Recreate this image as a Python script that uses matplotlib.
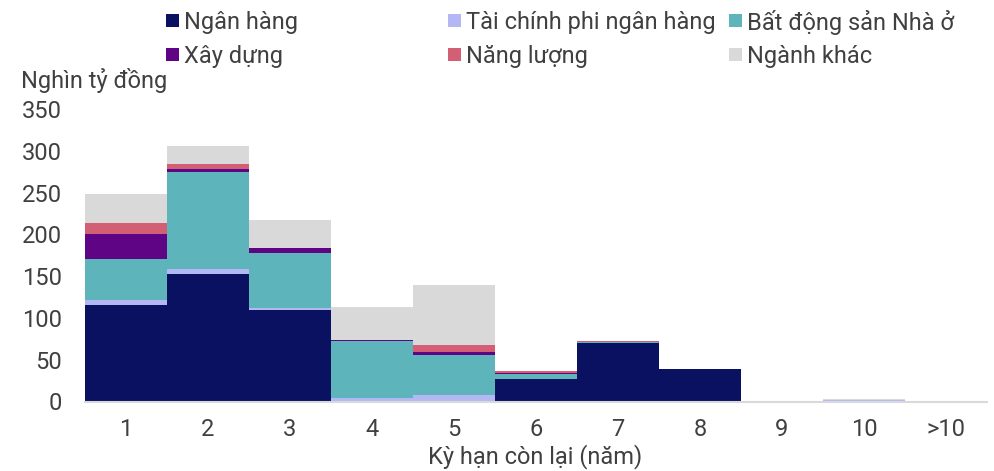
import matplotlib
matplotlib.use("Agg")
import matplotlib.pyplot as plt
from matplotlib.patches import Rectangle
import numpy as np

plt.rcParams['font.family'] = ['Roboto', 'DejaVu Sans']

categories = ["1", "2", "3", "4", "5", "6", "7", "8", "9", "10", ">10"]
ngan_hang = [115, 152, 110, 0.5, 0.5, 26.5, 69.5, 38.5, 0.0, 0.0, 0.0]
tai_chinh = [7, 7, 2, 3.5, 7.5, 0, 0, 0, 0.0, 1.2, 0.0]
bat_dong_san = [49, 116, 66, 68, 48, 6.5, 1.5, 0, 0, 0, 0]
xay_dung = [29, 3, 5.5, 1, 3, 1.5, 0.7, 0, 0.4, 0, 0]
nang_luong = [14, 6, 0.5, 0.7, 9, 2, 0.6, 0, 0.3, 0, 0]
nganh_khac = [34, 22, 33, 39, 71, 0, 0, 0, 0, 2.2, 0.3]

series = [
    ("Ngân hàng", ngan_hang, "#0B1161"),
    ("Tài chính phi ngân hàng", tai_chinh, "#B3B8F5"),
    ("Bất động sản Nhà ở", bat_dong_san, "#5DB4BB"),
    ("Xây dựng", xay_dung, "#5E0485"),
    ("Năng lượng", nang_luong, "#D35F75"),
    ("Ngành khác", nganh_khac, "#D9D9D9"),
]

W, H = 994, 471
fig = plt.figure(figsize=(W / 100, H / 100), dpi=100)
ax = fig.add_axes([85 / W, 1 - 401.5 / H, 902 / W, 292.5 / H])

x = np.arange(1, len(categories) + 1)
bottom = np.zeros(len(categories))
for name, vals, color in series:
    v = np.array(vals, dtype=float)
    ax.bar(x, v, width=1.0, bottom=bottom, color=color, edgecolor="none", linewidth=0)
    bottom += v

ax.set_xlim(0.5, len(categories) + 0.5)
ax.set_ylim(0, 350)
ax.set_yticks(range(0, 351, 50))
ax.set_xticks(x)
ax.set_xticklabels(categories)

text_color = "#404040"
fs = 17
for s in ["top", "right", "left"]:
    ax.spines[s].set_visible(False)
ax.spines["bottom"].set_color("#D9D9D9")
ax.spines["bottom"].set_linewidth(1.5)
ax.tick_params(axis="both", length=0, labelsize=fs, colors=text_color)
ax.tick_params(axis="y", pad=16.5)
ax.tick_params(axis="x", pad=12)

fig.text(535 / W, 1 - 463 / H, "Kỳ hạn còn lại (năm)", fontsize=fs, color=text_color,
         ha="center", va="baseline")
fig.text(21 / W, 1 - 88 / H, "Nghìn tỷ đồng", fontsize=fs, color=text_color,
         ha="left", va="baseline")

# legend laid out in three equal-width columns, row by row
col_x = [166, 448, 729]
row_y = [20, 54]
sq = 13
for i, (name, _, color) in enumerate(series):
    cx = col_x[i % 3]
    cy = row_y[i // 3]
    fig.patches.append(Rectangle((cx / W, 1 - (cy + sq / 2) / H), sq / W, sq / H,
                                 transform=fig.transFigure, facecolor=color,
                                 edgecolor="none"))
    fig.text((cx + sq + 5) / W, 1 - cy / H, name, fontsize=fs, color=text_color,
             ha="left", va="center_baseline")

fig.savefig("out.png", dpi=100)
